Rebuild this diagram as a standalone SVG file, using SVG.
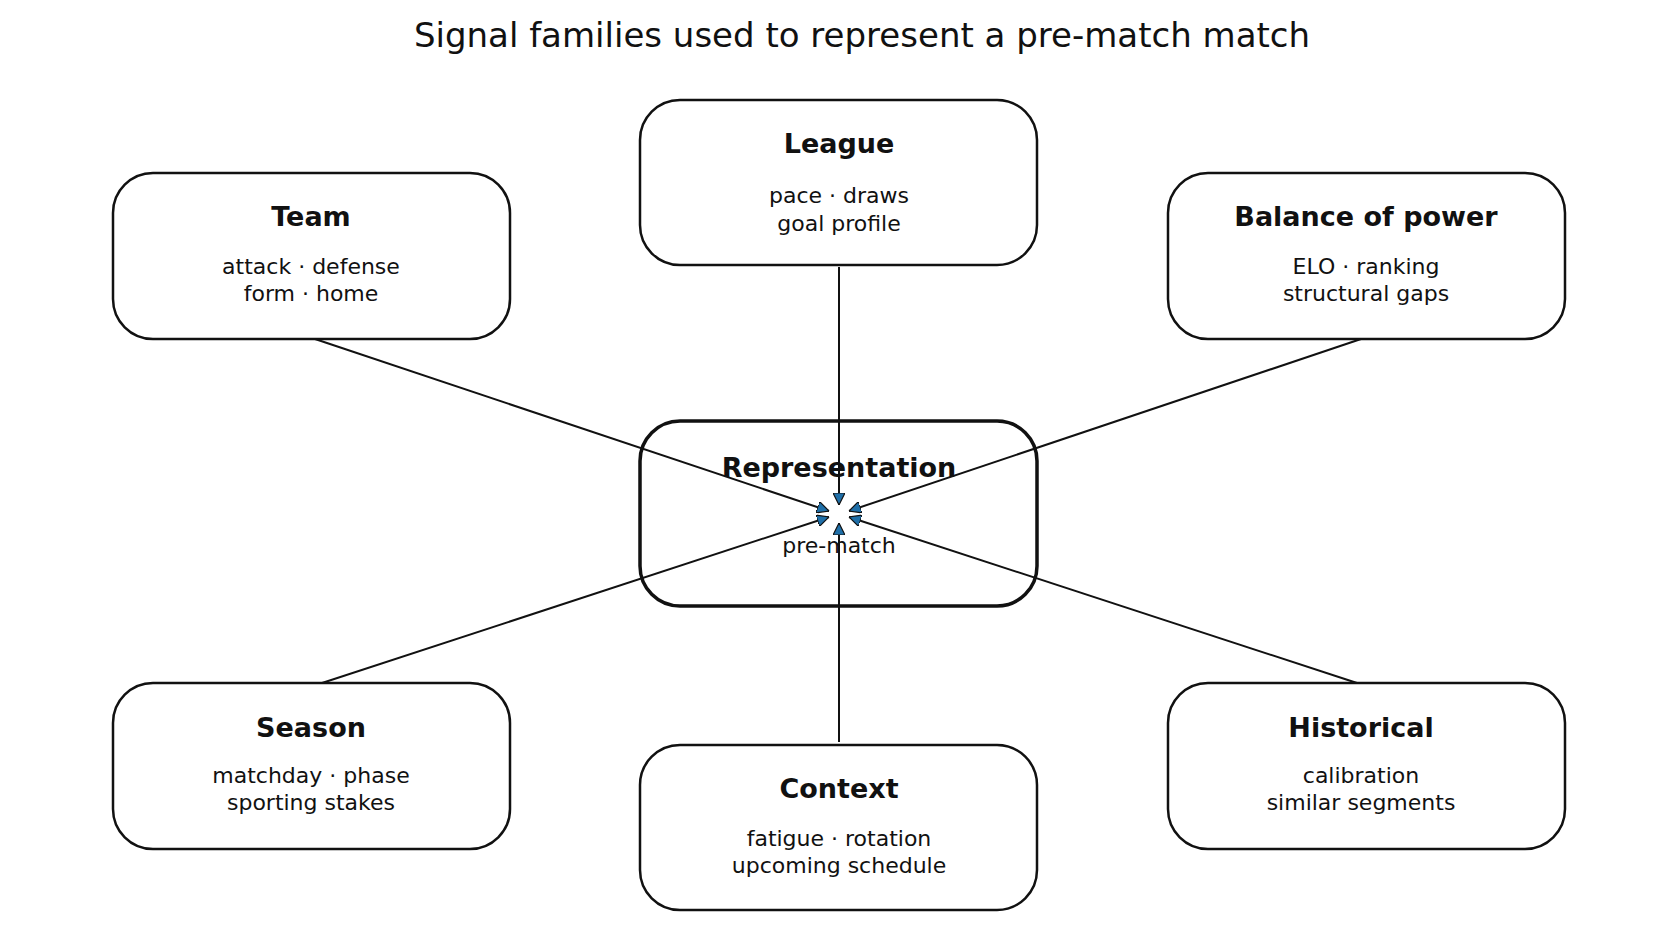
<svg xmlns="http://www.w3.org/2000/svg" width="1672" height="941" viewBox="0 0 1672 941">
<defs>
<style>
.box{fill:#fff;stroke:#111;stroke-width:2.5}
.main{fill:#fff;stroke:#111;stroke-width:3.5}
.t{font-family:"DejaVu Sans",sans-serif;font-weight:bold;font-size:27px;fill:#111;text-anchor:middle}
.b{font-family:"DejaVu Sans",sans-serif;font-size:22px;fill:#111;text-anchor:middle}
.c{stroke:#111;stroke-width:2;fill:none;marker-end:url(#ah)}
</style>
<marker id="ah" viewBox="0 0 10 10" refX="10" refY="5" markerWidth="6" markerHeight="6" orient="auto" markerUnits="strokeWidth">
<path d="M0,0 L10,5 L0,10 z" fill="#1f6fa8" stroke="#111" stroke-width="1"/>
</marker>
</defs>
<rect width="1672" height="941" fill="#fff"/>
<text x="862" y="47" font-family="DejaVu Sans,sans-serif" font-size="34" fill="#111" text-anchor="middle">Signal families used to represent a pre-match match</text>
<g id="rep"><rect class="main" x="640" y="421" width="397" height="185" rx="40"/>
<text class="t" x="839" y="477">Representation</text><text class="b" x="839" y="553">pre-match</text></g>
<g id="connectors">
<line class="c" x1="315" y1="339" x2="829" y2="511"/>
<line class="c" x1="839" y1="267" x2="839" y2="505"/>
<line class="c" x1="1361" y1="339" x2="849" y2="511"/>
<line class="c" x1="322" y1="683" x2="829" y2="517"/>
<line class="c" x1="839" y1="742" x2="839" y2="523"/>
<line class="c" x1="1357" y1="683" x2="849" y2="517"/>
</g>
<g id="team"><rect class="box" x="113" y="173" width="397" height="166" rx="40"/>
<text class="t" x="311" y="226">Team</text><text class="b" x="311" y="274">attack · defense</text><text class="b" x="311" y="301">form · home</text></g>
<g id="league"><rect class="box" x="640" y="100" width="397" height="165" rx="40"/>
<text class="t" x="839" y="153">League</text><text class="b" x="839" y="203">pace · draws</text><text class="b" x="839" y="231">goal profile</text></g>
<g id="balance"><rect class="box" x="1168" y="173" width="397" height="166" rx="40"/>
<text class="t" x="1366" y="226">Balance of power</text><text class="b" x="1366" y="274">ELO · ranking</text><text class="b" x="1366" y="301">structural gaps</text></g>
<g id="season"><rect class="box" x="113" y="683" width="397" height="166" rx="40"/>
<text class="t" x="311" y="737">Season</text><text class="b" x="311" y="783">matchday · phase</text><text class="b" x="311" y="810">sporting stakes</text></g>
<g id="context"><rect class="box" x="640" y="745" width="397" height="165" rx="40"/>
<text class="t" x="839" y="798">Context</text><text class="b" x="839" y="846">fatigue · rotation</text><text class="b" x="839" y="873">upcoming schedule</text></g>
<g id="historical"><rect class="box" x="1168" y="683" width="397" height="166" rx="40"/>
<text class="t" x="1361" y="737">Historical</text><text class="b" x="1361" y="783">calibration</text><text class="b" x="1361" y="810">similar segments</text></g>
</svg>
